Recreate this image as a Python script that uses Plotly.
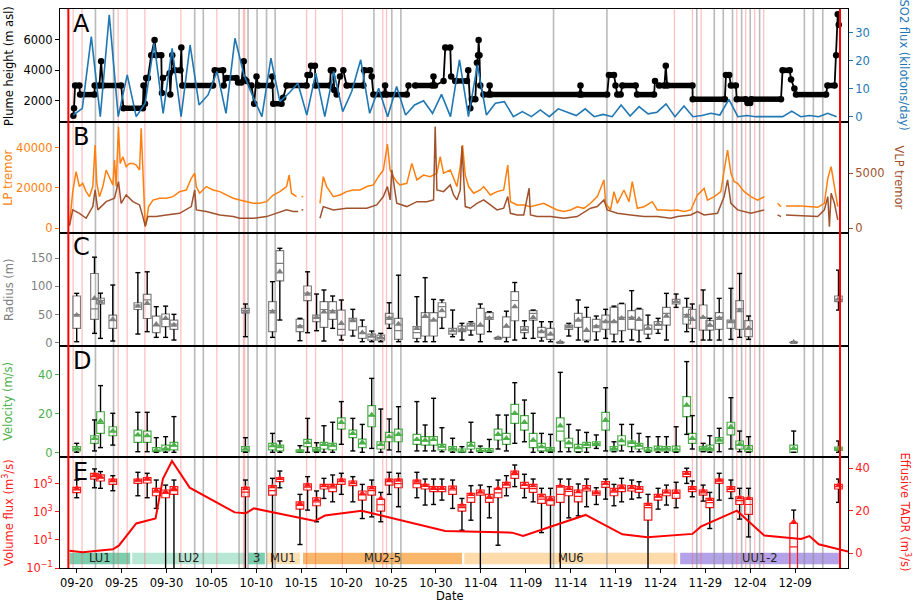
import pandas as pd
import plotly.graph_objects as go
from plotly.subplots import make_subplots

BASE = pd.Timestamp("2021-09-20")          # day offsets below are days after this date

# ---------------- Panel A: plume height (m asl) and SO2 flux (kt/day) ----------------
plume = [(-0.37,1000),(-0.3,1500),(-0.18,3000),(0.3,3000),(0.38,2400),(1.98,2400),(2.0,3000),(2.53,3000),
         (2.72,4600),(2.9,3000),(4.95,3000),(5.21,1500),(7.37,1500),(7.44,3000),(7.6,1800),(7.74,3500),
         (7.93,3500),(8.3,5000),(8.67,6000),(8.86,5000),(9.42,5000),(9.49,2500),(9.6,3500),(10.35,3800),
         (10.42,2400),(10.64,5000),(10.9,4000),(11.55,4000),(11.65,5500),(11.76,3000),(15.18,3000),(15.37,4000),
         (16.3,4000),(16.37,3000),(16.67,3500),(17.79,3500),(17.97,3200),(18.34,3200),(18.6,4600),(18.72,3400),
         (18.9,3300),(19.46,3000),(19.76,1800),(20.02,3600),(20.2,3000),(21.69,3000),(21.78,3600),(21.88,1800),
         (22.81,1800),(22.99,2200),(23.37,3000),(25.6,3000),(25.7,3700),(25.97,3700),(26.1,4300),(26.53,4300),
         (26.6,3000),(28.2,3000),(28.3,4000),(28.57,4000),(28.68,2700),(28.95,2400),(29.32,3600),(29.69,4000),
         (30.06,3000),(31.92,3000),(32.0,4000),(32.67,4000),(32.85,3600),(33.04,2400),(34.2,2400),(34.34,3000),
         (34.5,2400),(36.76,2400),(36.95,3000),(None,None),(37.69,3000),(39.6,3000),(39.73,3600),(39.9,3000),
         (40.85,3300),(41.04,5500),(41.6,5500),(41.7,3600),(42.15,3300),(43.46,3300),(43.6,4000),(43.83,1500),
         (44.0,2100),(44.39,2100),(44.57,4500),(44.7,5000),(44.76,6000),(44.85,5000),(44.94,3000),(45.3,2400),
         (45.87,2400),(45.98,3000),(46.1,2400),(56.0,2400),(56.1,3000),(56.2,2400),(59.07,2400),(59.27,3700),
         (59.83,3700),(60.0,3000),(60.2,2400),(60.57,2400),(60.76,3000),(62.25,3000),(62.4,2400),(64.29,2400),
         (64.4,3300),(64.85,3000),(65.45,3000),(65.6,4300),(65.75,3000),(68.57,3000),(68.6,2100),(72.18,2100),
         (72.3,3700),(72.66,3700),(72.85,3000),(73.4,3000),(73.5,2100),(74.5,2100),(74.7,1850),(75.0,1850),
         (75.1,2100),(78.43,2100),(78.6,4000),(79.4,4000),(79.55,3400),(79.92,2800),(80.1,2400),(83.45,2400),
         (83.6,3000),(84.4,3000),(84.57,5000),(84.75,7700),(84.86,7000)]

so2_start = "2021-09-19 15:00"   # daily values
so2_flux = [0.6,3,28.7,0,36.5,0,15,0,4.8,26.3,1.2,24.5,0,25.7,4.2,7.8,16.2,1.2,28.1,15,7.2,0,21,5.4,8.4,12,
            0.6,15.6,0,16.2,1.8,9,20.4,1.2,10.2,0,10.8,0.6,4.2,5.7,1.2,8,
            0,20.4,0,18.6,0.6,4.8,5.4,0,1.8,0,2.4,0,2.8,1.6,0.4,2.8,0,0.8,0,4.2,0.2,3.6,1,1.6,4.6,0,3.8,0,
            0.4,1.2,0.6,6.2,0,0.4,0,0,0,0,2,0,0.4,0,1.2,0]

# ---------------- Panel B: LP and VLP tremor ----------------
lp_tremor = [(-0.81,1650),(-0.44,18200),(-0.07,28100),(0.30,20700),(0.67,22300),(1.05,18200),(1.42,15700),
             (1.79,20700),(2.05,41300),(2.24,22300),(2.53,15700),(2.91,20700),(3.28,28900),(3.65,24800),
             (4.02,21500),(4.21,33900),(4.39,20700),(4.65,50400),(4.84,32200),(5.14,35500),(5.51,30600),
             (5.88,32200),(6.25,32200),(6.63,31400),(7.0,28900),(7.18,49600),(7.37,28900),(7.63,800),(7.74,2500),
             (8.0,10700),(8.49,14000),(9.23,14900),(9.97,14900),(10.72,15700),(11.46,18200),(12.21,19000),
             (12.76,24800),(13.14,27300),(13.32,20700),(13.69,17400),(14.44,20700),(15.18,19000),(15.93,18200),
             (16.67,16500),(17.42,14900),(18.16,14000),(18.90,13200),(19.65,12400),(20.39,12400),(21.14,13200),
             (21.88,16500),(22.62,18200),(23.37,20700),(23.66,26400),(23.92,17400),(24.48,15700),(None,None),
             (25.04,15700),(25.23,15700),(None,None),(27.09,12400),(27.46,25600),(27.83,20700),(28.58,15700),
             (29.32,16500),(30.06,18200),(30.81,19000),(31.55,19000),(32.3,20700),(33.04,21500),(33.6,25600),
             (34.15,28900),(34.6,41800),(34.9,28900),(35.27,25600),(35.64,23100),(36.0,21500),(36.76,22300),
             (37.32,32200),(37.88,24000),(38.62,26400),(39.36,25600),(40.11,27300),(40.48,35500),(40.85,27300),
             (41.6,28900),(41.97,24800),(42.34,20700),(42.71,30600),(42.97,41300),(43.27,26400),(43.64,20700),
             (44.2,17400),(44.95,19000),(45.32,20700),(46.06,16500),(46.81,18200),(47.55,19000),(48.0,31400),
             (48.3,13200),(49.04,11600),(49.78,11600),(50.53,10700),(51.27,11600),(52.0,12400),(52.76,10700),
             (53.5,9100),(54.25,8300),(55.0,9100),(55.73,10700),(56.48,9900),(57.22,12400),(57.97,15700),
             (58.71,24000),(58.9,12400),(59.45,9100),(59.83,18200),(60.2,12400),(60.94,19000),(61.5,13200),
             (61.87,23100),(62.43,9900),(63.17,10700),(64.1,13200),(64.66,9100),(65.4,9100),(66.15,8800),
             (66.9,9100),(67.64,8300),(68.38,9100),(69.13,16500),(69.87,19800),(70.24,14000),(70.99,15700),
             (71.73,18200),(72.1,28900),(72.48,38800),(72.85,27300),(73.22,23100),(73.6,22300),(74.33,18200),
             (75.08,15700),(75.82,14000),(76.57,15700),(None,None),(78.05,12400),(78.43,10700),(None,None),
             (78.98,11100),(80.66,11100),(82.52,10400),(83.26,12400),(83.64,24800),(84.01,30600),(84.38,20700),
             (84.75,10700)]

vlp_tremor = [(-0.81,210),(-0.44,1670),(0.30,1360),(1.05,910),(1.79,1970),(2.05,3480),(2.35,1670),(3.28,2420),
              (4.21,2730),(4.65,4240),(4.95,2270),(5.51,3030),(6.25,2420),(7.0,2120),(7.37,1060),(7.63,210),
              (7.93,1060),(8.86,1060),(9.97,1210),(11.46,1360),(12.76,1970),(13.14,3480),(13.32,1670),(14.44,1520),
              (15.93,1210),(17.42,1060),(18.16,910),(19.65,910),(21.14,1060),(22.25,1360),(23.37,1670),(24.11,1520),
              (24.67,1520),(None,None),(25.04,1670),(25.23,1670),(None,None),(27.09,910),(27.46,1970),(28.58,1670),
              (30.06,1820),(31.55,1820),(32.3,1820),(33.41,2120),(34.15,2880),(34.6,3790),(34.9,2580),(35.09,5300),
              (35.64,2270),(36.76,1970),(37.88,2420),(38.99,2420),(39.74,2580),(39.92,9240),(40.11,3480),
              (40.85,3330),(41.6,3940),(41.97,3030),(42.34,2580),(42.71,3480),(42.9,7480),(43.27,1970),(43.83,1820),
              (44.57,2270),(45.32,2580),(46.06,2120),(46.81,1670),(47.55,1820),(48.0,2880),(48.3,1360),(49.04,1210),
              (49.78,1210),(50.38,3640),(50.53,1210),(51.27,1060),(52.76,1060),(54.25,910),(55.73,1060),
              (57.22,1820),(57.97,1970),(58.71,2580),(59.08,1670),(60.2,1360),(61.69,1210),(63.17,1060),
              (64.66,1060),(66.15,910),(66.9,1060),(68.38,1210),(69.13,1520),(69.87,1210),(71.36,1360),(72.1,2880),
              (72.48,4390),(72.85,2270),(73.6,1670),(74.33,1520),(75.08,1360),(76.57,1670),(None,None),
              (78.05,1210),(78.43,1060),(None,None),(78.98,1210),(82.52,1060),(83.26,1670),(83.64,2880),
              (83.82,150),(84.01,3180),(84.38,2270),(84.75,760)]

# ---------------- Panels C, D, E: daily box statistics ----------------
box_days = [0.0,1.98,2.65,4.02,6.81,7.85,8.86,9.9,10.83,18.79,21.8,22.62,24.86,25.71,26.71,27.53,28.5,29.47,
            30.75,31.8,32.85,33.86,34.8,35.83,37.88,38.8,39.74,40.67,41.86,42.9,43.9,44.95,45.95,46.92,47.85,
            48.78,49.86,50.83,51.76,52.76,53.85,54.8,55.85,56.78,57.86,58.9,59.83,60.68,61.8,62.62,63.62,64.74,
            65.67,66.75,67.93,68.55,69.76,70.5,71.55,72.85,73.82,74.82,79.84,84.83]

# (min, q1, median, q3, max, mean)
radius_stats = [(1.8,25.5,50,83,87.7,49),(16.6,41.5,60,123,152,79),(7.7,69,75,79,88,73),(3,25.5,39,49,102.5,41.5),
    (15.4,59,67,71,124.5,65),(19.6,43,76,86,126,70),(9.5,17.8,30,47.4,64,32.6),(9.5,28.5,42,51,65,43.3),
    (4.7,23.7,33,40.3,50.4,31.4),(10.7,53,57,61,68.8,55),(9.5,19.6,57,73,108.5,55),(40.3,110,141,163.6,167.8,126),
    (3.6,19.6,30,41.5,43.3,28.5),(17.8,74.7,88,100.8,126,86.5),(21.3,37.3,45,49,86.5,45),(3,27.3,59,73,93.7,55),
    (25.5,41.5,57,73,83,55),(4.7,13.6,23.7,58,75.9,34.4),(11.9,22.5,40,43.3,59.3,39.1),(1.8,7.7,17,28.5,40.3,17.8),
    (1.8,4.7,11,15.4,20.7,11.9),(1.8,4.7,9,13.6,16.6,9.5),(25.5,33.2,45,52,71,43.3),(1.8,5.9,21.3,43.3,120,33.2),
    (1.8,7.7,17.8,28.5,81.8,25.5),(1.8,11.9,45,53.3,115.6,47.4),(1.8,11.9,40,53.3,77,40.3),(25.5,45,64,71,76,57),
    (10.7,15.4,21,25.5,58,21.3),(4.7,19.6,24,29.6,34.4,23.7),(13.6,22.5,31,34.4,37.3,31.4),(1.8,15.4,30,61,68.8,31.4),
    (19.6,41.5,45,53.3,55,43.3),(6,7,7.7,8.5,9.5,7.7),(1.8,9.5,28,46,56,29.6),(4.7,39,75,90.7,107,64),
    (7.7,17.8,23,28.5,39,23.7),(7.7,40.3,52,57,58,45),(3,9.5,20,27.3,37.3,19.6),(1.8,5.9,15,25.5,37.3,15.4),
    (0,0.3,0.6,0.9,1.2,0.6),(11.9,23.7,28,31.4,34.4,28.5),(4.7,27.3,40,52,76,40.3),(1.8,4.7,20,45,62.8,22.5),
    (4.7,19.6,30,41.5,47.4,28.5),(7.7,23.7,38,49,59.3,37.3),(1.8,15.4,38,62.8,65,37.3),(1.8,21.3,45,68.8,70,43.3),
    (4.7,23.7,45,57,92.5,43.3),(1.8,22.5,40,59.3,61,41.5),(7.7,15.4,25,31.4,49,25.5),(16.6,23.7,32,37.3,43.3,32.6),
    (4.7,31.4,52,62.8,87.7,47.4),(62.8,68.8,73,77,86.5,73),(19.6,33.2,50,62.8,78.8,47.4),(1.8,25.5,40,59.3,68.8,41.5),
    (4.7,22.5,45,67,93.7,45),(4.7,22.5,30,39.1,43.3,31.4),(4.7,23.7,45,53.3,78.8,43.3),(5.9,25.5,37,40.3,96.6,37.3),
    (9.5,23.7,60,74.7,123,57),(5.9,10.7,25,39.1,47.4,25.5),(0,0.3,0.6,0.9,1.2,0.6),(58,73,77,83,129,77.6)]

velocity_stats = [(0.2,0.9,2,3.1,4.8,2.2),(0.9,4.8,7,8.7,16.8,7.4),(2.6,9.9,15,21,34.4,16.2),(3.9,8.7,11,13.3,20.2,11.1),
    (0.5,5.3,9,11.6,20.7,9.1),(0.5,5.3,8.5,11.1,20.7,8.7),(0.2,0.5,1.2,2.6,7.7,1.4),(0.2,0.9,2,3.9,8.2,2.2),
    (0.2,1.4,3.5,5.3,18.5,3.9),(0.2,0.5,1.5,3.1,7.7,1.9),(0.2,1.4,3.2,4.8,9.9,3.6),(0.2,0.9,2.8,3.9,6,3.1),
    (0.2,0.2,0.7,1.4,3.6,0.9),(0.2,3.1,5,6.8,17.6,5.3),(0.2,0.5,1.5,2.6,5.1,1.7),(0.2,1.9,4,5.3,13.8,4.3),
    (0.2,1.4,3.5,4.8,15.6,3.9),(4.3,12.1,15,17.9,26.2,15.6),(0.9,7.7,9.5,11.6,17.6,9.9),(0.2,2.6,4.5,7,14.5,5.3),
    (2.2,13.3,19,24.1,38.1,19.3),(0.2,1.9,4,5.6,22.4,4.3),(1.4,5.6,8,10.4,17.3,8.2),(0.5,5.6,9,12.1,23.6,9.4),
    (0.9,4.3,6.5,9.4,26.2,6.8),(0.9,3.9,6,8.2,14.2,6.5),(0.9,3.9,6.5,8.2,27.9,6.8),(0.5,1.4,3,4.3,12.8,3.4),
    (0.2,0.9,2,3.1,7.4,2.2),(0.2,0.2,0.7,1.9,3.1,0.9),(0.2,1.9,3.5,5.3,15.6,3.9),(0.2,0.5,1,2.2,3.4,1.2),
    (0.2,0.3,1,2.1,6.8,1.2),(1.9,6.5,9,12.1,19.3,9.4),(0.9,4.3,7,9.9,19.3,7.4),(4.8,15,20,24.8,35.9,20.2),
    (5.6,11.6,15,19,27,15.6),(0.2,2.6,6,9.9,20.2,6.5),(0.2,0.9,3,4.8,9.9,3.1),(0.2,0.5,1.5,2.6,9.4,1.7),
    (0.5,6,11.1,17.9,41.2,13.8),(0.5,2.6,5,7.4,14.5,5.1),(0.2,0.5,2.5,4.3,11.6,2.6),(0.2,2.6,4,5.3,10.4,4.3),
    (2.2,3.6,4.5,5.6,9.1,4.8),(0.9,11.6,16,20.7,33.3,16.8),(0.5,0.9,2,3.1,5.6,2.2),(0.9,3.9,6,8.7,14.5,6.2),
    (0.5,3.1,5,6,14.5,5.3),(0.5,1.9,3.5,4.8,9.9,3.9),(0.2,0.5,1.2,2.6,8.2,1.4),(0.2,0.9,2,3.4,8.2,2.2),
    (0.2,0.9,2,3.1,8.2,2.2),(0.2,0.5,1.5,3.4,13.3,1.9),(9.4,18.5,24,28.7,46.7,24.4),(1.9,4.8,7,9.9,19,7.4),
    (0.5,0.9,2,3.1,4.8,2.2),(0.2,0.9,2,3.9,8.7,2.2),(0.5,4.8,6.5,7.7,12.5,6.5),(1.9,9.1,12.5,15.6,28.2,13.3),
    (0.5,1.9,4,6,11.1,4.3),(0.2,0.5,1.5,3.6,8.2,2.2),(0.2,0.2,2,3.9,11.1,2.2),(0.2,1.2,2,2.9,6,2.0)]

# volume flux, log10(m3/s): (min, q1, median, q3, max, mean)
vflux_log10_stats = [(4.0,4.36,4.55,4.74,5.26,4.67),(4.71,5.33,5.5,5.74,6.05,5.62),(4.67,5.19,5.4,5.62,5.86,5.5),
    (4.5,4.95,5.15,5.33,5.57,5.26),(4.14,5.02,5.2,5.33,5.81,5.26),(4.0,5.05,5.25,5.43,5.74,5.36),
    (3.24,4.14,4.4,4.67,5.26,4.55),(-2,4.0,4.3,4.55,4.9,4.43),(-2,4.24,4.5,4.79,5.26,4.67),(-2,4.07,4.4,4.74,5.26,4.67),
    (-2,4.19,4.5,4.86,5.38,4.79),(4.71,5.14,5.3,5.43,5.9,5.38),(0.67,3.19,3.45,3.71,4.24,3.6),(3.12,4.55,4.75,4.98,5.5,4.9),
    (2.29,3.43,3.7,4.0,4.48,3.88),(3.95,4.62,4.8,4.95,5.38,4.86),(3.71,4.43,4.7,4.95,5.62,4.86),(4.24,4.95,5.15,5.33,5.74,5.26),
    (3.71,4.86,5.0,5.19,5.5,5.1),(2.52,3.83,4.2,4.48,4.95,4.31),(2.64,4.19,4.5,4.79,5.26,4.71),(2.29,3.05,3.5,3.9,4.38,3.95),
    (4.24,4.9,5.15,5.33,5.81,5.26),(3.36,4.71,5.0,5.33,5.74,5.26),(4.0,4.71,5.0,5.26,5.81,5.19),(3.48,4.62,4.8,4.95,5.33,4.9),
    (3.52,4.43,4.6,4.79,5.33,4.71),(3.83,4.43,4.6,4.79,5.33,4.71),(3.24,4.24,4.55,4.83,5.26,4.71),(1.69,3.05,3.3,3.52,3.95,3.48),
    (2.4,3.67,4.0,4.31,4.86,4.24),(-2,4.19,4.35,4.55,4.9,4.43),(2.57,3.67,3.95,4.24,4.79,4.07),(0.62,4.0,4.35,4.67,5.26,4.67),
    (4.14,4.71,4.9,5.1,5.57,5.02),(4.79,5.38,5.65,5.9,6.33,5.81),(4.0,4.67,4.9,5.1,5.67,4.95),(3.71,4.38,4.65,4.95,5.33,4.86),
    (1.52,3.6,3.9,4.24,4.67,4.14),(-2,3.48,3.8,4.07,4.67,3.95),(-2,3.67,4.24,4.86,5.33,4.83),(2.57,4.14,4.45,4.79,5.33,4.67),
    (2.71,3.71,4.1,4.55,4.98,4.43),(3.36,4.48,4.65,4.86,5.33,4.71),(3.52,4.19,4.35,4.48,4.71,4.38),(3.9,4.74,4.95,5.14,5.33,5.02),
    (3.43,4.14,4.4,4.67,4.95,4.55),(3.71,4.43,4.65,4.9,5.38,4.79),(3.9,4.48,4.65,4.86,5.26,4.74),(4.0,4.38,4.6,4.79,5.14,4.67),
    (-2,2.4,3.29,3.6,4.24,3.52),(3.19,3.83,4.05,4.24,4.67,4.14),(3.48,4.14,4.35,4.55,4.9,4.43),(3.29,3.95,4.3,4.55,5.1,4.43),
    (5.02,5.5,5.7,5.86,6.1,5.74),(4.07,4.43,4.6,4.79,5.19,4.71),(3.76,4.19,4.35,4.55,4.9,4.48),(1.81,3.29,3.65,3.95,4.38,3.88),
    (3.83,5.02,5.2,5.33,5.74,5.26),(3.95,4.43,4.6,4.79,5.26,4.71),(2.48,3.52,3.8,4.07,4.67,4.0),(1.21,2.81,3.52,4.0,4.67,3.95),
    (-2,-2,0.5,2.17,3.12,2.29),(3.67,4.62,4.8,4.95,5.33,4.86)]

tadr = [(-0.81,1.25),(0.67,0.5),(4.02,1.9),(4.69,3.6),(6.63,14),(8.78,16.4),(9.6,35),(10.61,43.3),(12.58,30.8),
        (17.6,19.2),(18.83,18.75),(19.72,21.1),(26.53,15.2),(27.65,17.7),(31.74,20),(41.04,10.5),(48.48,9.7),
        (49.71,8.1),(56.67,18),(60.76,8.9),(63.55,7.5),(68.57,9.1),(69.5,12.5),(73.52,20),(76.57,8.3),
        (80.66,6.7),(81.59,8.1),(82.63,4.2),(85.9,0.8)]

# eruptive units: (label, start day, end day, colour)
units = [("LU1",-0.81,5.96,"rgb(122,207,174)"),("LU2",6.18,18.83,"rgb(184,231,214)"),("3",19.09,20.95,"rgb(122,207,174)"),
         ("MU1",21.14,24.86,"rgb(253,223,180)"),("MU2-5",25.2,42.9,"rgb(248,183,106)"),("MU6",43.16,66.9,"rgb(253,219,170)"),
         ("UU1-2",67.2,84.93,"rgb(180,162,233)")]

# event lines (day offsets)
pink_days = [-0.4,0.6,4.62,5.62,7.59,11.6,15.6,18.57,18.7,25.6,26.6,29.58,34.08,34.5,66.56,68.57,69.53,73.5,74.5,75.5,76.5]
gray_days = [2.09,4.1,13.14,14.1,18.08,19.08,20.09,21.14,22.1,33.1,35.09,36.1,53.1,59.04,69.05,71.0,72.0,73.03,74.04,
             75.0,76.05,81.03,82.03,83.08]
red_days = [-0.93,85.0]

tick_labels = ["09-20","09-25","09-30","10-05","10-10","10-15","10-20","10-25","10-30","11-04","11-09","11-14",
               "11-19","11-24","11-29","12-04","12-09"]

# ---------------------------------------------------------------------------
def dt(d):
    return None if d is None else BASE + pd.Timedelta(days=d)

def unzip(pairs):
    return [dt(p[0]) for p in pairs], [p[1] for p in pairs]

C_A, C_SO2 = "black", "#1f77b4"
C_LP, C_VLP = "#ff7f0e", "#a0522d"
C_R, C_V, C_E = "#7f7f7f", "#4daf4a", "#ff1a1a"
FONT = "DejaVu Sans"
FS = 11.5

fig = make_subplots(rows=5, cols=1, shared_xaxes=True, vertical_spacing=0,
                    specs=[[{"secondary_y": True}], [{"secondary_y": True}], [{}], [{}], [{"secondary_y": True}]])

# Panel A
px_, py_ = unzip(plume)
fx, fy = [], []
for (d0, h0), (d1, h1) in zip(plume, plume[1:]):
    if d0 is not None and d1 is not None and h0 == h1:
        fx += [dt(d0), dt(d1), None]
        fy += [h0, h1, None]
fig.add_trace(go.Scatter(x=fx, y=fy, mode="lines", line=dict(color=C_A, width=5.5), hoverinfo="skip"), row=1, col=1)
fig.add_trace(go.Scatter(x=px_, y=py_, mode="lines+markers", line=dict(color=C_A, width=1.8),
                         marker=dict(color=C_A, size=6.5)), row=1, col=1)
so2_dates = pd.date_range(so2_start, periods=len(so2_flux), freq="D")
fig.add_trace(go.Scatter(x=so2_dates, y=so2_flux, mode="lines", line=dict(color=C_SO2, width=1.6)),
              row=1, col=1, secondary_y=True)

# Panel B
lx, ly = unzip(lp_tremor)
vx, vy = unzip(vlp_tremor)
fig.add_trace(go.Scatter(x=lx, y=ly, mode="lines", line=dict(color=C_LP, width=1.5)), row=2, col=1)
fig.add_trace(go.Scatter(x=vx, y=vy, mode="lines", line=dict(color=C_VLP, width=1.5)), row=2, col=1, secondary_y=True)

# Box panels
def add_boxes(stats, color, row, transform=lambda v: v):
    xs = [dt(d) for d in box_days]
    mn = [transform(s[0]) for s in stats]
    q1 = [transform(s[1]) for s in stats]
    md = [transform(s[2]) for s in stats]
    q3 = [transform(s[3]) for s in stats]
    mx = [transform(s[4]) for s in stats]
    me = [transform(s[5]) for s in stats]
    wx, wy = [], []
    cap = 0.28
    for d, a, b, c, e in zip(box_days, mn, q1, q3, mx):
        t, tl, tr = dt(d), dt(d - cap), dt(d + cap)
        wx += [t, t, None, t, t, None, tl, tr, None, tl, tr, None]
        wy += [c, e, None, b, a, None, e, e, None, a, a, None]
    fig.add_trace(go.Scatter(x=wx, y=wy, mode="lines", line=dict(color="black", width=1.4), hoverinfo="skip"),
                  row=row, col=1)
    fig.add_trace(go.Box(x=xs, q1=q1, median=md, q3=q3, lowerfence=q1, upperfence=q3,
                         width=0.85 * 86400000, whiskerwidth=0, boxpoints=False,
                         line=dict(color=color, width=1.2), fillcolor="rgba(0,0,0,0)"), row=row, col=1)
    fig.add_trace(go.Scatter(x=xs, y=me, mode="markers",
                             marker=dict(symbol="triangle-up", size=6.5, color=color)), row=row, col=1)

add_boxes(radius_stats, C_R, 3)
add_boxes(velocity_stats, C_V, 4)
add_boxes(vflux_log10_stats, C_E, 5, transform=lambda v: 10 ** v)

tx, ty = unzip(tadr)
fig.add_trace(go.Scatter(x=tx, y=ty, mode="lines", line=dict(color="red", width=2)), row=5, col=1, secondary_y=True)

# ---------------- axes ----------------
x_lo, x_hi = dt(-1.86), dt(85.89)
tickvals = [pd.Timestamp("2021-" + t) for t in tick_labels]
for r in range(1, 6):
    fig.update_xaxes(row=r, col=1, range=[x_lo, x_hi], domain=[0, 1], showgrid=False, zeroline=False,
                     showline=True, linecolor="black", linewidth=1, mirror=True, ticks="", showticklabels=False,
                     automargin=False)
fig.update_xaxes(row=5, col=1, ticks="outside", ticklen=4, tickcolor="black", showticklabels=True,
                 tickmode="array", tickvals=tickvals, ticktext=tick_labels,
                 tickfont=dict(family=FONT, size=FS, color="black"))

domains = {1: [0.7979, 1.0], 2: [0.5993, 0.7979], 3: [0.3971, 0.5993], 4: [0.1986, 0.3971], 5: [0.0, 0.1986]}

def yax(row, sec, rng, tv, color, ttext=None, typ="linear"):
    kw = dict(range=rng, showgrid=False, zeroline=False, ticks="outside", ticklen=4, tickcolor=color,
              tickmode="array", tickvals=tv, tickfont=dict(family=FONT, size=FS, color=color), type=typ,
              domain=domains[row], automargin=False)
    if ttext is not None:
        kw["ticktext"] = ttext
    elif typ == "linear":
        kw["tickformat"] = "d"
    if sec:
        kw.update(showline=False)
        fig.update_yaxes(row=row, col=1, secondary_y=True, **kw)
    else:
        kw.update(showline=True, linecolor="black", linewidth=1, mirror=True)
        if row in (1, 2, 5):
            fig.update_yaxes(row=row, col=1, secondary_y=False, **kw)
        else:
            fig.update_yaxes(row=row, col=1, **kw)

yax(1, False, [596, 8043], [2000, 4000, 6000], C_A)
yax(1, True, [-1.9, 38.6], [0, 10, 20, 30], C_SO2)
yax(2, False, [-2330, 52750], [0, 20000, 40000], C_LP)
yax(2, True, [-430, 9660], [0, 5000], C_VLP)
yax(3, False, [-5.9, 195], [0, 50, 100, 150], C_R)
yax(4, False, [-2.2, 54.7], [0, 20, 40], C_V)
yax(5, False, [-1, 6.9], [0.1, 10, 1000, 100000], C_E,
    ttext=["10<sup>\u22121</sup>", "10<sup>1</sup>", "10<sup>3</sup>", "10<sup>5</sup>"], typ="log")
yax(5, True, [-6.9, 45.2], [0, 20, 40], C_E)

def ref(ax):
    return ax.plotly_name.replace("axis", "")

sub5 = fig.get_subplot(5, 1, secondary_y=False)
XR = ref(sub5.xaxis)
YR5 = ref(sub5.yaxis)

# ---------------- shapes: unit bands then event lines ----------------
shapes = []
annotations = []
for name, d0, d1, col in units:
    shapes.append(dict(type="rect", xref=XR, yref=YR5 + " domain", x0=dt(d0), x1=dt(d1), y0=0.033, y1=0.138,
                       fillcolor=col, line=dict(width=0), layer="below"))
    annotations.append(dict(xref=XR, yref=YR5 + " domain", x=dt((d0 + d1) / 2), y=0.086, text=name,
                            showarrow=False, font=dict(family=FONT, size=FS, color="#222"),
                            xanchor="center", yanchor="middle"))
for d in gray_days:
    shapes.append(dict(type="line", xref=XR, yref="paper", x0=dt(d), x1=dt(d), y0=0, y1=1,
                       line=dict(color="rgba(140,140,140,0.6)", width=1.6), layer="below"))
for d in pink_days:
    shapes.append(dict(type="line", xref=XR, yref="paper", x0=dt(d), x1=dt(d), y0=0, y1=1,
                       line=dict(color="rgba(255,80,80,0.35)", width=1.3), layer="below"))
for d in red_days:
    shapes.append(dict(type="line", xref=XR, yref="paper", x0=dt(d), x1=dt(d), y0=0, y1=1,
                       line=dict(color="red", width=2), layer="above"))

# panel letters
for letter, yc in [("A", 0.973), ("B", 0.771), ("C", 0.575), ("D", 0.371), ("E", 0.1726)]:
    annotations.append(dict(xref="paper", yref="paper", x=0.0135, y=yc, text=letter, showarrow=False,
                            font=dict(family=FONT, size=24, color="black"), xanchor="left", yanchor="middle"))

def ytitle(text, xp, yc, color, angle):
    annotations.append(dict(xref="paper", yref="paper", x=xp, y=yc, text=text, showarrow=False, textangle=angle,
                            font=dict(family=FONT, size=FS, color=color), xanchor="center", yanchor="middle"))

L, R1, R2 = -0.0655, 1.0723, 1.0635
ytitle("Plume height (m asl)", L, 0.8989, C_A, -90)
ytitle("LP tremor", L, 0.6986, C_LP, -90)
ytitle("Radius (m)", L, 0.4982, C_R, -90)
ytitle("Velocity (m/s)", L, 0.2979, C_V, -90)
ytitle("Volume flux (m<sup>3</sup>/s)", L, 0.0993, C_E, -90)
ytitle("SO2 flux (kilotons/day)", R1, 0.8989, C_SO2, 90)
ytitle("VLP tremor", R2, 0.6986, C_VLP, 90)
ytitle("Effusive TADR (m<sup>3</sup>/s)", R1, 0.0993, C_E, 90)
annotations.append(dict(xref="paper", yref="paper", x=0.495, y=-0.05, text="Date", showarrow=False,
                        font=dict(family=FONT, size=FS, color="black"), xanchor="center", yanchor="middle"))

fig.update_layout(width=913, height=603, margin=dict(l=60, r=65, t=9, b=35, autoexpand=False), showlegend=False,
                  plot_bgcolor="white", paper_bgcolor="white", font=dict(family=FONT, size=FS),
                  shapes=shapes, annotations=annotations, boxmode="overlay")

fig.write_html("out.html", config={"displayModeBar": False},
               post_script="document.body.style.margin='0px';")
